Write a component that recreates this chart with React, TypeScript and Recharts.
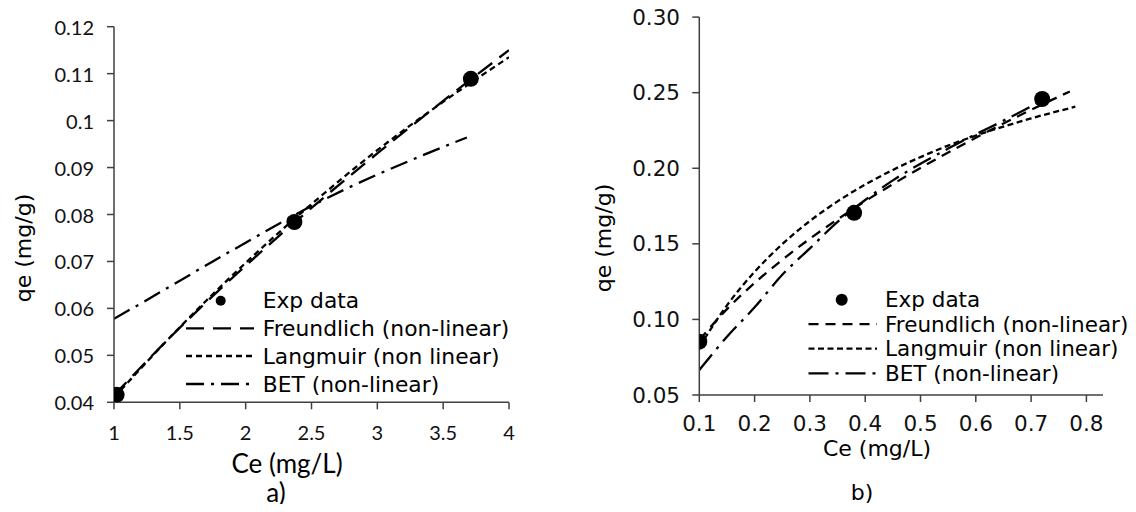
import React from "react";
import { ComposedChart, Line, Scatter, XAxis, YAxis, Legend } from "recharts";

// panel a)
const aExpCe = [1.02, 2.37, 3.71];
const aExpQe = [0.0416, 0.0784, 0.1089];
const aFitCe = [1, 1.5, 2, 2.5, 3, 3.5, 4];
const aFreundlich = [0.0415, 0.0559, 0.0691, 0.0814, 0.093, 0.1042, 0.115];
const aLangmuir = [0.041, 0.056, 0.0697, 0.0822, 0.0937, 0.104, 0.1135];
const aBetCe = [1, 1.25, 1.5, 1.75, 2, 2.25, 2.5, 2.75, 3, 3.25, 3.5, 3.68];
const aBet = [0.0578, 0.0618, 0.0659, 0.07, 0.074, 0.078, 0.0818, 0.0853, 0.0885, 0.0915, 0.0944, 0.0964];
const aXTicks = [1, 1.5, 2, 2.5, 3, 3.5, 4];
const aYTicks = [0.04, 0.05, 0.06, 0.07, 0.08, 0.09, 0.1, 0.11, 0.12];

// panel b)
const bExpCe = [0.1, 0.38, 0.72];
const bExpQe = [0.0853, 0.1705, 0.2458];
const bFitCe = [0.1, 0.15, 0.2, 0.25, 0.3, 0.35, 0.4, 0.45, 0.5, 0.55, 0.6, 0.65, 0.7, 0.75, 0.77];
const bFreundlich = [0.0864, 0.1068, 0.1241, 0.1394, 0.1534, 0.1662, 0.1782, 0.1895, 0.2002, 0.2104, 0.2202, 0.2296, 0.2387, 0.2474, 0.2508];
const bLangCe = [0.1, 0.15, 0.2, 0.25, 0.3, 0.35, 0.4, 0.45, 0.5, 0.55, 0.6, 0.65, 0.7, 0.75, 0.78];
const bLangmuir = [0.0817, 0.1093, 0.1315, 0.1498, 0.1651, 0.1781, 0.1892, 0.1989, 0.2074, 0.215, 0.2216, 0.2276, 0.233, 0.2379, 0.2407];
const bBetCe = [0.1, 0.15, 0.2, 0.25, 0.3, 0.35, 0.4, 0.45, 0.5, 0.55, 0.6, 0.65, 0.7, 0.72];
const bBet = [0.0666, 0.0885, 0.108, 0.1295, 0.147, 0.1645, 0.179, 0.192, 0.203, 0.213, 0.2225, 0.2315, 0.241, 0.245];
const bXTicks = [0.1, 0.2, 0.3, 0.4, 0.5, 0.6, 0.7, 0.8];
const bYTicks = [0.05, 0.1, 0.15, 0.2, 0.25, 0.3];

const legendNames = ["Exp data", "Freundlich (non-linear)", "Langmuir (non linear)", "BET (non-linear)"];

const VERDANA = "'DejaVu Sans', Verdana, sans-serif";
const CALIBRI = "Lato, sans-serif";
const AXIS = "#404040";

const pts = (xs: number[], ys: number[]) => xs.map((ce, i) => ({ ce, qe: ys[i] }));

function Dot(props: any) {
  return <circle cx={props.cx} cy={props.cy} r={props.r} fill="#000" />;
}

function LegendSvg({ g }: { g: any }) {
  return (
    <svg width={g.w} height={g.h} style={{ overflow: "visible" }}>
      {legendNames.map((name, i) => {
        const y = g.rows[i];
        return (
          <g key={name}>
            {i === 0 ? (
              <circle cx={g.dot} cy={y} r={g.dotR} fill="#000" />
            ) : (
              <line x1={g.x0} x2={g.x1} y1={y} y2={y} stroke="#000" strokeWidth={2.3} strokeDasharray={g.dashes[i - 1]} />
            )}
            <text x={g.tx} y={y} dominantBaseline="central" fontFamily={VERDANA} fontSize={g.fs} fill="#000">
              {name}
            </text>
          </g>
        );
      })}
    </svg>
  );
}

function Label({ x, y, text, font, size, rotate }: any) {
  return (
    <div
      style={{
        position: "absolute",
        left: x,
        top: y,
        transform: `translate(-50%, -50%)${rotate ? " rotate(-90deg)" : ""}`,
        fontFamily: font,
        fontSize: size,
        whiteSpace: "nowrap",
        color: "#000",
        lineHeight: 0.8,
      }}
    >
      {text}
    </div>
  );
}

function Panel(p: any) {
  const xTick = (t: any) => (
    <text x={t.x} y={p.xLabelY} textAnchor="middle" dominantBaseline="central" style={{ fontFamily: p.tickFont, fontSize: p.tickSize }} fill="#111">
      {p.xFmt(t.payload.value)}
    </text>
  );
  const yTick = (t: any) => (
    <text x={p.yLabelX} y={t.y} textAnchor="end" dominantBaseline="central" style={{ fontFamily: p.tickFont, fontSize: p.tickSize }} fill="#111">
      {p.yFmt(t.payload.value)}
    </text>
  );
  return (
    <div style={{ position: "absolute", left: p.left, top: 0, width: p.width, height: 512 }}>
      <ComposedChart width={p.width} height={512} margin={p.margin}>
        <XAxis
          type="number"
          dataKey="ce"
          domain={p.xDomain}
          ticks={p.xTicks}
          interval={0}
          allowDataOverflow
          height={30}
          tickSize={7}
          stroke={AXIS}
          strokeWidth={1.5}
          tick={xTick}
        />
        <YAxis
          type="number"
          dataKey="qe"
          domain={p.yDomain}
          ticks={p.yTicks}
          interval={0}
          allowDataOverflow
          width={p.yWidth}
          tickSize={7}
          stroke={AXIS}
          strokeWidth={1.5}
          tick={yTick}
        />
        {p.lines.map((l: any) => (
          <Line
            key={l.name}
            name={l.name}
            data={l.data}
            dataKey="qe"
            type="monotone"
            stroke="#000"
            strokeWidth={2.3}
            strokeDasharray={l.dash}
            dot={false}
            activeDot={false}
            isAnimationActive={false}
          />
        ))}
        <Scatter
          name="Exp data"
          data={p.exp}
          dataKey="qe"
          fill="#000"
          shape={(s: any) => <Dot {...s} r={p.dotR} />}
          isAnimationActive={false}
        />
        <Legend
          layout="vertical"
          align="center"
          verticalAlign="middle"
          wrapperStyle={{ left: p.legend.left, top: p.legend.top, width: p.legend.w, height: p.legend.h }}
          content={() => <LegendSvg g={p.legend} />}
        />
      </ComposedChart>
      {p.labels.map((l: any) => (
        <Label key={l.text} {...l} />
      ))}
    </div>
  );
}

export default function App() {
  const aDash = ["18 9", "6 4", "18 7 3 7"];
  const bDash = ["10 7", "6 3.5", "20 7 3 7"];
  return (
    <div style={{ position: "relative", width: 1136, height: 512, margin: -8, background: "#fff" }}>
      <Panel
        left={0}
        width={560}
        margin={{ top: 26.7, right: 51, left: 0, bottom: 79.7 }}
        yWidth={114}
        xDomain={[1, 4]}
        yDomain={[0.04, 0.12]}
        xTicks={aXTicks}
        yTicks={aYTicks}
        xFmt={(v: number) => String(v)}
        yFmt={(v: number) => String(Number(v.toFixed(2)))}
        tickFont={CALIBRI}
        tickSize={20}
        xLabelY={432}
        yLabelX={94}
        dotR={8}
        exp={pts(aExpCe, aExpQe)}
        lines={[
          { name: legendNames[1], data: pts(aFitCe, aFreundlich), dash: aDash[0] },
          { name: legendNames[2], data: pts(aFitCe, aLangmuir), dash: aDash[1] },
          { name: legendNames[3], data: pts(aBetCe, aBet), dash: aDash[2] },
        ]}
        legend={{
          left: 180, top: 284, w: 340, h: 116,
          x0: 6, x1: 74, dot: 40.7, dotR: 5, tx: 82.7, fs: 21.8,
          rows: [16.7, 44.3, 72, 100], dashes: aDash,
        }}
        labels={[
          { x: 24, y: 248, text: "qe (mg/g)", font: VERDANA, size: 22, rotate: true },
          { x: 287, y: 463, text: "Ce (mg/L)", font: CALIBRI, size: 26 },
          { x: 276, y: 492, text: "a)", font: CALIBRI, size: 26 },
        ]}
      />
      <Panel
        left={560}
        width={576}
        margin={{ top: 17.1, right: 33, left: 0, bottom: 87 }}
        yWidth={139.3}
        xDomain={[0.1, 0.83]}
        yDomain={[0.05, 0.3]}
        xTicks={bXTicks}
        yTicks={bYTicks}
        xFmt={(v: number) => v.toFixed(1)}
        yFmt={(v: number) => v.toFixed(2)}
        tickFont={VERDANA}
        tickSize={21.5}
        xLabelY={423}
        yLabelX={120}
        dotR={8}
        exp={pts(bExpCe, bExpQe)}
        lines={[
          { name: legendNames[1], data: pts(bFitCe, bFreundlich), dash: bDash[0] },
          { name: legendNames[2], data: pts(bLangCe, bLangmuir), dash: bDash[1] },
          { name: legendNames[3], data: pts(bBetCe, bBet), dash: bDash[2] },
        ]}
        legend={{
          left: 240, top: 282, w: 330, h: 110,
          x0: 8.5, x1: 77, dot: 41.7, dotR: 6, tx: 85, fs: 21.5,
          rows: [17.8, 42.2, 66.6, 91.4], dashes: bDash,
        }}
        labels={[
          { x: 44, y: 238, text: "qe (mg/g)", font: VERDANA, size: 22, rotate: true },
          { x: 317, y: 449, text: "Ce (mg/L)", font: VERDANA, size: 22 },
          { x: 302, y: 493, text: "b)", font: VERDANA, size: 22 },
        ]}
      />
    </div>
  );
}
